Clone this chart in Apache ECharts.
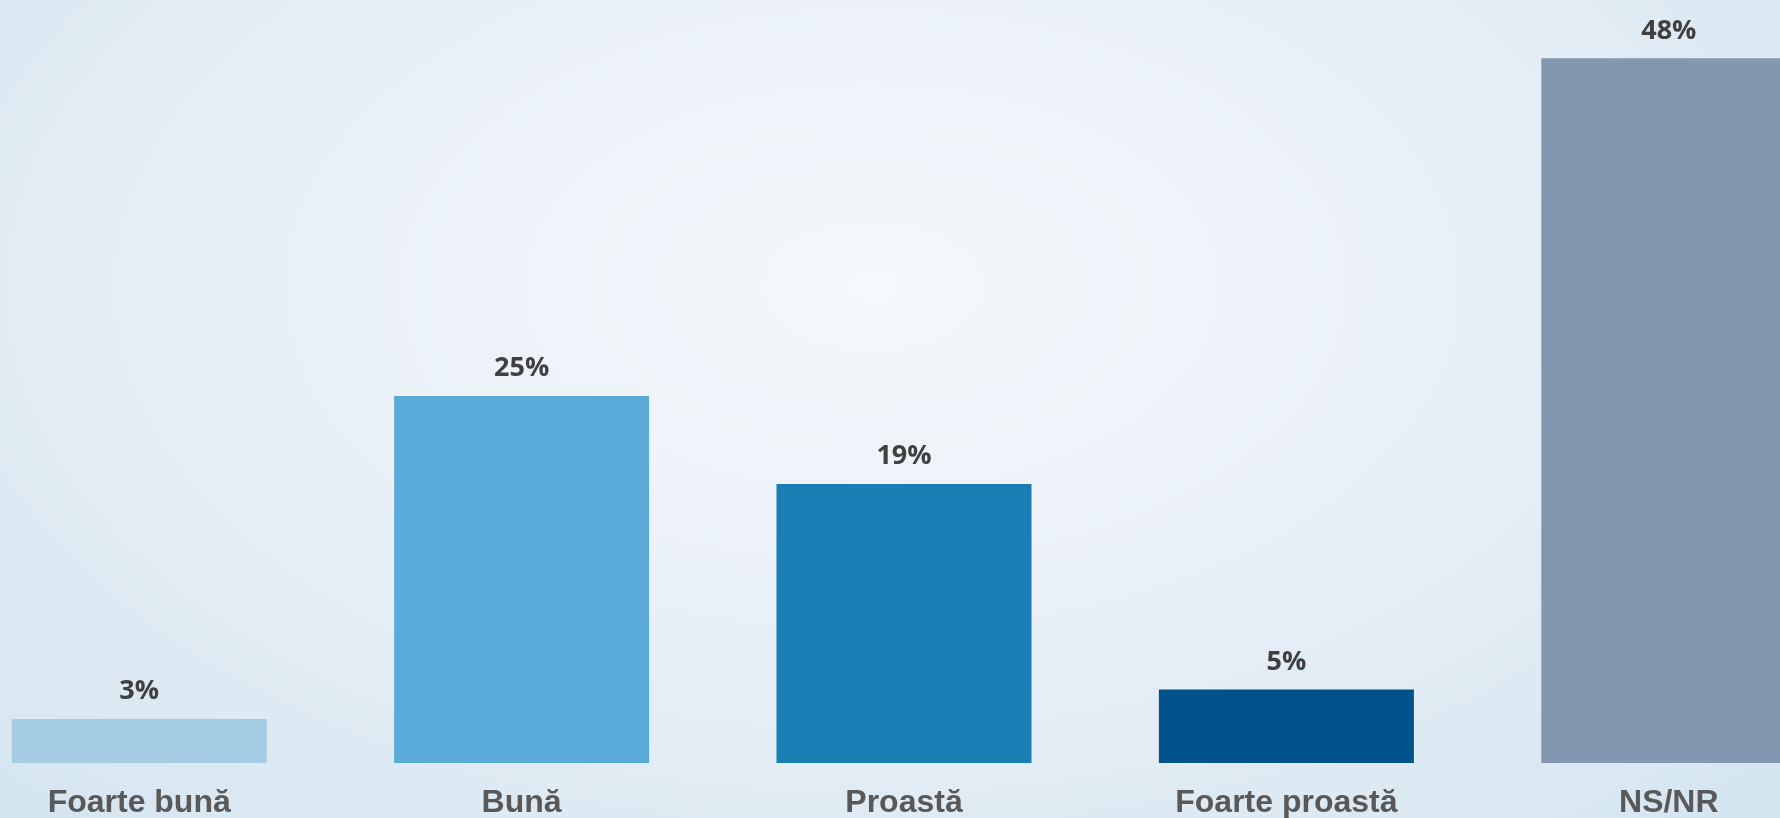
<!DOCTYPE html>
<html>
<head>
    <meta charset="utf-8" />
    <title>Bar chart</title>
    <script src="https://cdn.jsdelivr.net/npm/echarts@6/dist/echarts.min.js"></script>
    <style>
        html, body { margin: 0; padding: 0; }
        #chart {
            width: 1780px;
            height: 818px;
            background: radial-gradient(ellipse farthest-corner at 49% 35%, #f5f8fc 0%, #e9f0f7 45%, #d4e5f0 100%);
        }
    </style>
</head>
<body>
    <div id="chart"></div>
    <script type="text/javascript">
        var categories = ['Foarte bună', 'Bună', 'Proastă', 'Foarte proastă', 'NS/NR'];
        var values = [3, 25, 19, 5, 48];
        var colors = ['#a4cde3', '#5aabda', '#1a7db4', '#00538a', '#8497b0'];

        var myChart = echarts.init(document.getElementById('chart'));

        myChart.setOption({
            grid: {
                left: -52,
                width: 1912,
                top: 29,
                bottom: 55,
                containLabel: false,
                outerBoundsMode: 'none'
            },
            xAxis: {
                type: 'category',
                data: categories,
                axisLine: { show: false },
                axisTick: { show: false },
                axisLabel: {
                    margin: 24,
                    fontSize: 32,
                    fontWeight: 'bold',
                    fontFamily: 'Liberation Sans, Arial, sans-serif',
                    color: '#595959'
                }
            },
            yAxis: {
                type: 'value',
                min: 0,
                max: 50,
                show: false,
                splitLine: { show: false }
            },
            series: [{
                type: 'bar',
                barWidth: 255,
                data: values.map(function (v, i) {
                    return { value: v, itemStyle: { color: colors[i] } };
                }),
                label: {
                    show: true,
                    position: 'top',
                    distance: 14,
                    formatter: '{c}%',
                    fontSize: 27,
                    fontWeight: 'bold',
                    fontFamily: 'Open Sans, sans-serif',
                    color: '#404040'
                }
            }]
        });
    </script>
</body>
</html>
